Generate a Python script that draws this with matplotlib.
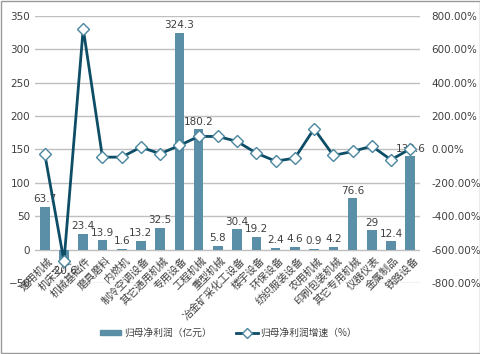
import numpy as np
import matplotlib.pyplot as plt
from matplotlib.patches import Rectangle

plt.rcParams['font.family'] = ['Noto Sans CJK SC', 'DejaVu Sans']

categories = ['通用机械', '机床工具', '机械基础件', '磨具磨料', '内燃机', '制冷空调设备',
              '其它通用机械', '专用设备', '工程机械', '重型机械', '冶金矿采化工设备',
              '楼宇设备', '环保设备', '纺织服装设备', '农用机械', '印刷包装机械',
              '其它专用机械', '仪器仪表', '金属制品', '铁路设备']
profit = [63.7, -20.6, 23.4, 13.9, 1.6, 13.2, 32.5, 324.3, 180.2, 5.8, 30.4,
          19.2, 2.4, 4.6, 0.9, 4.2, 76.6, 29, 12.4, 139.6]
growth = [-26, -670, 724, -46, -46, 14, -26, 24, 78, 78, 48,
          -22, -70, -52, 124, -36, -12, 20, -62, 4]

bar_color = '#5b8fa8'
line_color = '#0d4d66'

fig = plt.figure(figsize=(4.81, 3.54), dpi=100)
fig.patches.append(Rectangle((0.002, 0.003), 0.995, 0.994, transform=fig.transFigure,
                             fill=False, edgecolor='#9a9a9a', linewidth=1))
ax = fig.add_axes([0.073, 0.2006, 0.80, 0.7544])
x = np.arange(len(categories))

ax.bar(x, profit, width=0.5, color=bar_color, zorder=2)
for xi, v in zip(x, profit):
    if v >= 0:
        ax.text(xi, v + 4, f'{v:g}', ha='center', va='bottom', fontsize=7.5,
                color='#404040', family=['DejaVu Sans'], zorder=4)
    else:
        ax.text(xi, v - 4, f'{v:g}', ha='center', va='top', fontsize=7.5,
                color='#404040', family=['DejaVu Sans'], zorder=4)

ax.set_ylim(-50, 350)
ax.set_yticks(range(-50, 351, 50))
ax.set_xlim(-0.5, len(categories) - 0.5)
ax.grid(axis='y', color='#bfbfbf', linewidth=1, zorder=0)
ax.set_axisbelow(True)
for s in ax.spines.values():
    s.set_visible(False)
ax.tick_params(length=0, labelsize=7.5, colors='#404040')
ax.set_xticks([])
for lbl in ax.get_yticklabels():
    lbl.set_family(['DejaVu Sans'])

# category labels hang from the zero line
for xi, name in zip(x, categories):
    ax.text(xi + 0.15, -9, name, rotation=45, ha='right', va='top',
            rotation_mode='anchor', fontsize=7.5, color='#404040', zorder=1)

ax2 = ax.twinx()
ax2.plot(x, growth, color=line_color, linewidth=2, marker='D', markersize=6,
         markerfacecolor='white', markeredgecolor='#4a86a0', markeredgewidth=1,
         zorder=3)
ax2.set_ylim(-800, 800)
ax2.set_yticks(range(-800, 801, 200))
ax2.set_yticklabels([f'{t:.2f}%' for t in range(-800, 801, 200)],
                    family=['DejaVu Sans'])
ax2.tick_params(length=0, labelsize=7.5, colors='#404040', pad=8)
for s in ax2.spines.values():
    s.set_visible(False)

bar_h = plt.Rectangle((0, 0), 1, 1, color=bar_color)
line_h, = ax2.plot([], [], color=line_color, linewidth=2, marker='D', markersize=5,
                   markerfacecolor='white', markeredgecolor='#4a86a0')
fig.legend([bar_h, line_h], ['归母净利润（亿元）', '归母净利润增速（%）'],
           loc='center', bbox_to_anchor=(0.475, 0.06), ncol=2, frameon=False,
           fontsize=7, handlelength=2.2, handleheight=0.4, handletextpad=0.3,
           columnspacing=2.5, labelcolor='#404040')

fig.savefig('out.png', dpi=100)
